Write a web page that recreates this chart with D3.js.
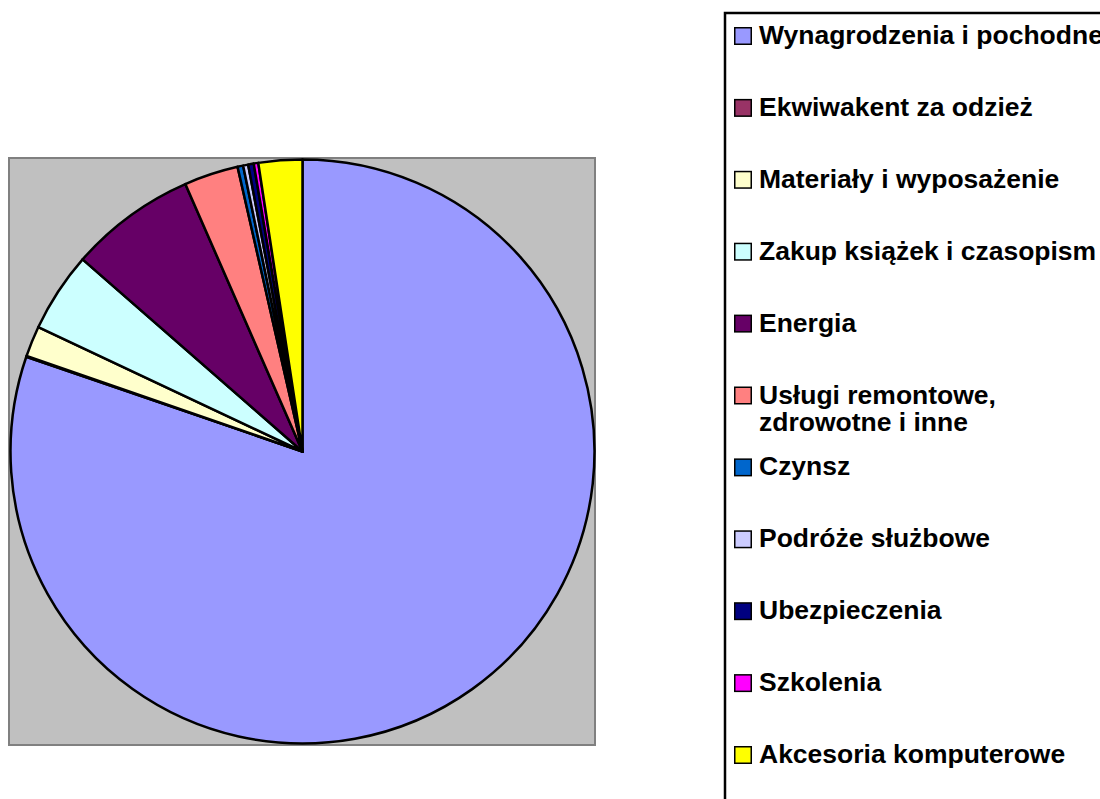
<!DOCTYPE html>
<html>
<head>
<meta charset="utf-8">
<script src="https://cdn.jsdelivr.net/npm/d3@7"></script>
<style>
  body { margin: 0; background: #fff; }
  svg { display: block; }
  .legText { font-family: "Liberation Sans", Arial, sans-serif; font-weight: bold; font-size: 25px; fill: #000; }
</style>
</head>
<body>
<div id="chart"></div>
<script>
// data (percent of total)
var categories = [
  "Wynagrodzenia i pochodne",
  "Ekwiwakent za odzież",
  "Materiały i wyposażenie",
  "Zakup książek i czasopism",
  "Energia",
  "Usługi remontowe,\nzdrowotne i inne",
  "Czynsz",
  "Podróże służbowe",
  "Ubezpieczenia",
  "Szkolenia",
  "Akcesoria komputerowe"
];
var values = [80.25, 0.05, 1.7, 4.42, 7.0, 3.0, 0.31, 0.28, 0.31, 0.25, 2.42];
var palette = ["#9999FF", "#993366", "#FFFFCC", "#CCFFFF", "#660066", "#FF8080",
               "#0066CC", "#CCCCFF", "#000080", "#FF00FF", "#FFFF00"];

var svgWidth = 1100;
var svgHeight = 799;

var data = categories.map(function(c, i) { return { name: c, value: values[i] }; });

var color = d3.scaleOrdinal().domain(categories).range(palette);

var svg = d3.select("#chart")
  .append("svg")
  .attr("width", svgWidth)
  .attr("height", svgHeight);

// plot area
var plot = { x: 9, y: 158, w: 586, h: 587 };
svg.append("rect")
  .attr("x", plot.x)
  .attr("y", plot.y)
  .attr("width", plot.w)
  .attr("height", plot.h)
  .attr("fill", "#C0C0C0")
  .attr("stroke", "#808080")
  .attr("stroke-width", 2);

// pie
var cx = 302.5, cy = 451.5, radius = 292;

var pie = d3.pie().sort(null).value(d => d.value);
var arc = d3.arc().innerRadius(0).outerRadius(radius);

var pieGroup = svg.append("g")
  .attr("transform", `translate(${cx}, ${cy})`);

pieGroup.selectAll("path")
  .data(pie(data))
  .enter()
  .append("path")
  .attr("d", arc)
  .attr("fill", d => color(d.data.name))
  .attr("stroke", "#000")
  .attr("stroke-width", 2.5)
  .attr("stroke-linejoin", "round");

// legend
var leg = { x: 725, y: 13, step: 71.9, first: 27 };
svg.append("rect")
  .attr("x", leg.x)
  .attr("y", leg.y)
  .attr("width", 500)
  .attr("height", 900)
  .attr("fill", "#fff")
  .attr("stroke", "#000")
  .attr("stroke-width", 2.5);

var items = svg.selectAll(".legItem")
  .data(categories)
  .enter()
  .append("g")
  .attr("class", "legItem")
  .attr("transform", (d, i) => `translate(${leg.x + 9}, ${leg.first + i * leg.step})`);

items.append("rect")
  .attr("x", 0.75)
  .attr("y", 0.75)
  .attr("width", 16.5)
  .attr("height", 16.5)
  .attr("fill", d => color(d))
  .attr("stroke", "#000")
  .attr("stroke-width", 1.5);

items.each(function(d) {
  var lines = d.split("\n");
  var g = d3.select(this);
  lines.forEach(function(line, j) {
    g.append("text")
      .attr("class", "legText")
      .attr("transform", `translate(25, ${17 + j * 27}) scale(1.06, 1)`)
      .text(line);
  });
});
</script>
</body>
</html>
